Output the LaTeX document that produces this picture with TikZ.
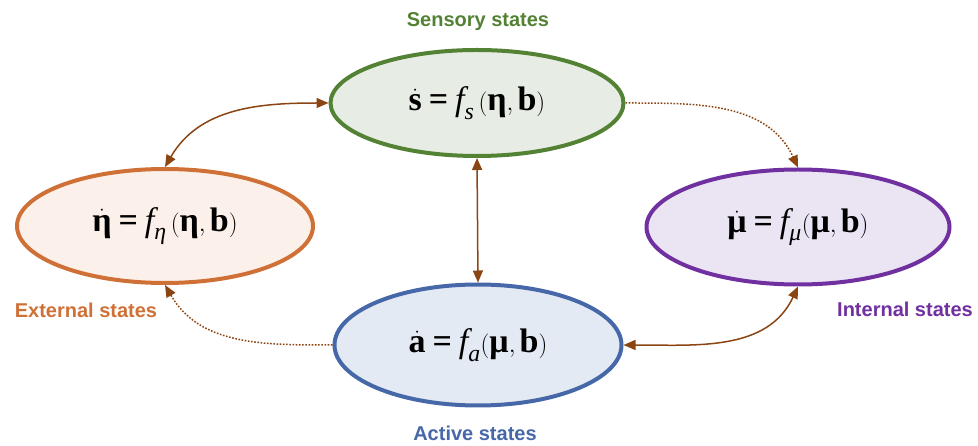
\documentclass[tikz,border=0pt]{standalone}
\usepackage{amsmath}
\usepackage{fontspec}
\setsansfont{Liberation Sans}
\newfontfamily\tnr{Liberation Serif}
\usetikzlibrary{shapes.geometric,arrows.meta}
\definecolor{sgreen}{HTML}{548235}
\definecolor{sgreenf}{HTML}{E7EDE4}
\definecolor{eorange}{HTML}{CF7136}
\definecolor{eorangef}{HTML}{FCF1EA}
\definecolor{ipurple}{HTML}{7030A0}
\definecolor{ipurplef}{HTML}{EBE4F2}
\definecolor{ablue}{HTML}{4668A8}
\definecolor{abluef}{HTML}{E4EAF3}
\definecolor{arr}{HTML}{8B4513}
\newcommand{\bv}[1]{\text{\tnr\bfseries #1}}
\newcommand{\iv}[1]{\text{\tnr\itshape #1}}
\newcommand{\eqs}{\mathrel{\bv{=}}}
\begin{document}
\begin{tikzpicture}[x=1pt,y=-1pt,
  statebox/.style={ellipse,line width=4pt,inner sep=0pt,font=\fontsize{34}{40}\selectfont},
  lbl/.style={font=\sffamily\bfseries\fontsize{20}{24}\selectfont},
  conn/.style={arr,line width=1.5pt},
  tip/.style={-{Triangle[length=12pt,width=10pt]}},
  dtip/.style={{Triangle[length=12pt,width=10pt]}-{Triangle[length=12pt,width=10pt]}},
  dots/.style={dash pattern=on 1.6pt off 1.6pt}]
\useasboundingbox (0,0) rectangle (978,446);
\node[statebox,draw=sgreen,fill=sgreenf,minimum width=293pt,minimum height=106pt] (sen) at (477,103) {$\dot{\bv{s}}\eqs\iv{f}_{\iv{s}}\,(\bv{η},\bv{b})$\hspace{12pt}};
\node[statebox,draw=eorange,fill=eorangef,minimum width=296pt,minimum height=114pt] (ext) at (165,226) {$\dot{\bv{η}}\eqs\iv{f}_{\iv{η}}\,(\bv{η},\bv{b})$\hspace{4pt}};
\node[statebox,draw=ipurple,fill=ipurplef,minimum width=303pt,minimum height=115pt] (int) at (798,227) {$\dot{\bv{μ}}\eqs\iv{f}_{\iv{μ}}(\bv{μ},\bv{b})$\hspace{4pt}};
\node[statebox,draw=ablue,fill=abluef,minimum width=287pt,minimum height=121pt] (act) at (478,345) {$\dot{\bv{a}}\eqs\iv{f}_{\iv{a}}(\bv{μ},\bv{b})$\hspace{4pt}};
\node[lbl,text=sgreen] (lsen) at (478,22) {Sensory states};
\node[lbl,text=eorange] (lext) at (86,310) {External states};
\node[lbl,text=ipurple] (lint) at (905,309) {Internal states};
\node[lbl,text=ablue] (lact) at (475,433) {Active states};
\draw[conn,dtip] (sen.west) to[out=180,in=60] (ext.north);
\draw[conn,dots,tip] (sen.east) to[out=0,in=115] (int.north);
\draw[conn,dtip] (sen.south) -- (act.north);
\draw[conn,dots,tip] (act.west) to[out=180,in=-60] (ext.south);
\draw[conn,dtip] (act.east) to[out=0,in=-115] (int.south);
\end{tikzpicture}
\end{document}
